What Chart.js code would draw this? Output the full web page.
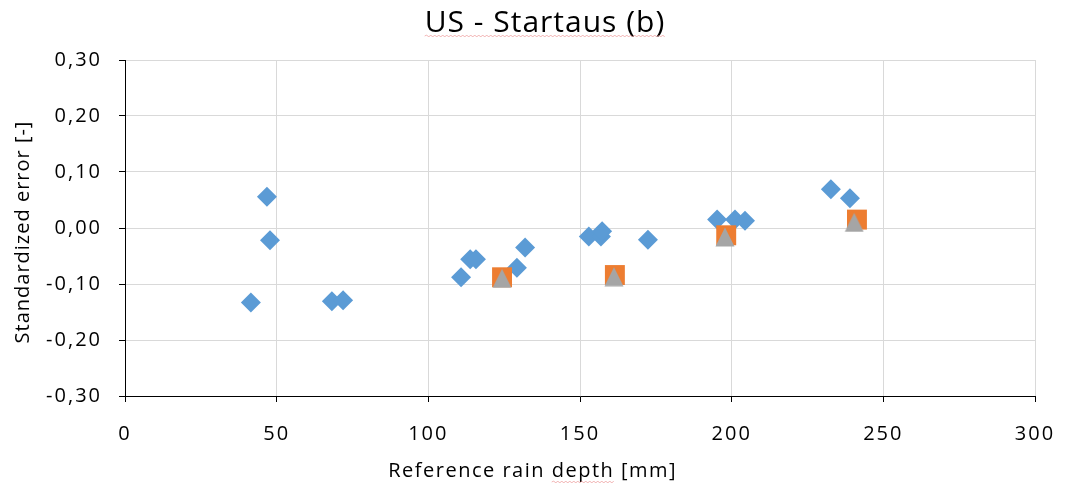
<!DOCTYPE html>
<html>
<head>
<meta charset="utf-8">
<title>US - Startaus (b)</title>
<script src="https://cdn.jsdelivr.net/npm/chart.js@4.4.1/dist/chart.umd.min.js"></script>
<style>
    html, body { margin: 0; padding: 0; background: #ffffff; }
    #wrap { width: 1066px; height: 490px; }
</style>
</head>
<body>
<div id="wrap"><canvas id="chart-startaus" width="1066" height="490"></canvas></div>
<script>
// Referans yağış derinliği [mm] ve standart hata değerleri
const depthA = [41.5, 46.8, 47.8, 68.2, 71.9, 110.8, 113.8, 115.7, 129.2, 131.9, 152.9, 156.9, 157.3, 172.4, 195.2, 201.1, 204.4, 232.7, 239.0];
const errorA = [-0.133, 0.056, -0.022, -0.131, -0.129, -0.088, -0.056, -0.056, -0.071, -0.035, -0.015, -0.015, -0.006, -0.021, 0.015, 0.015, 0.013, 0.069, 0.053];

const depthB = [124.3, 161.5, 198.2, 241.3];
const errorB = [-0.088, -0.084, -0.013, 0.015];

const depthC = [124.3, 161.2, 197.8, 240.4];
const errorC = [-0.090, -0.087, -0.016, 0.010];

const xTicks = [0, 50, 100, 150, 200, 250, 300];
const yTicks = [-0.3, -0.2, -0.1, 0, 0.1, 0.2, 0.3];

const titleText = 'US - Startaus (b)';
const xTitle = 'Reference rain depth [mm]';
const yTitle = 'Standardized error [-]';

const FONT = '"Open Sans", Lato, sans-serif';

function toPoints(xs, ys) {
    return xs.map((x, i) => ({ x: x, y: ys[i] }));
}

// Üçgen işaretçi: kutunun ortasına hizalı
function triangleMarker(color) {
    const c = document.createElement('canvas');
    c.width = 20; c.height = 20;
    const g = c.getContext('2d');
    g.fillStyle = color;
    g.beginPath();
    g.moveTo(10, 0.5);
    g.lineTo(19.5, 19.5);
    g.lineTo(0.5, 19.5);
    g.closePath();
    g.fill();
    return c;
}

// Virgüllü ondalık etiket
function commaLabel(v) {
    if (Math.abs(v) < 1e-9) v = 0;
    return v.toFixed(2).replace('.', ',');
}

// İnce kırmızı dalgalı alt çizgi
function wavy(c, x0, x1, y) {
    c.save();
    c.strokeStyle = 'rgba(232, 120, 120, 0.55)';
    c.lineWidth = 1;
    c.beginPath();
    c.moveTo(x0, y);
    let up = true;
    for (let x = x0 + 2; x <= x1; x += 2) {
        c.lineTo(x, up ? y - 1 : y + 1);
        up = !up;
    }
    c.stroke();
    c.restore();
}

// Başlık ve eksen başlıkları (hafif harf aralığı ile)
const textPlugin = {
    id: 'chartTexts',
    beforeDraw(chart) {
        chart.ctx.letterSpacing = '2px';
    },
    afterDraw(chart) {
        const c = chart.ctx;
        const a = chart.chartArea;
        c.save();
        c.fillStyle = '#000000';
        c.textAlign = 'left';
        c.textBaseline = 'alphabetic';

        // Grafik başlığı
        c.font = '30px ' + FONT;
        c.letterSpacing = '1px';
        const tx = a.left + 0.4615 * (a.right - a.left);
        const tw = c.measureText(titleText).width;
        c.fillText(titleText, tx - tw / 2, 32);
        wavy(c, tx - tw / 2, tx + tw / 2, 36);

        // X ekseni başlığı
        c.font = '20px ' + FONT;
        c.letterSpacing = '1.5px';
        const xx = a.left + 0.448 * (a.right - a.left);
        const xw = c.measureText(xTitle).width;
        c.fillText(xTitle, xx - xw / 2, 477);
        const pre = c.measureText('Reference rain ').width;
        const dw = c.measureText('depth').width;
        wavy(c, xx - xw / 2 + pre, xx - xw / 2 + pre + dw, 482);

        // Y ekseni başlığı
        c.letterSpacing = '1px';
        const yw = c.measureText(yTitle).width;
        c.translate(29, (a.top + a.bottom) / 2 + 4);
        c.rotate(-Math.PI / 2);
        c.fillText(yTitle, -yw / 2, 0);
        c.restore();
    }
};

const ctx = document.getElementById('chart-startaus').getContext('2d');
new Chart(ctx, {
    type: 'scatter',
    data: {
        datasets: [
            {
                data: toPoints(depthA, errorA),
                pointStyle: 'rectRot', pointRadius: 10, borderWidth: 0,
                backgroundColor: '#5b9bd5', order: 2
            },
            {
                data: toPoints(depthB, errorB),
                pointStyle: 'rect', pointRadius: 14.1, borderWidth: 0,
                backgroundColor: '#ed7d31', order: 1
            },
            {
                data: toPoints(depthC, errorC),
                pointStyle: triangleMarker('#a5a5a5'), pointRadius: 10,
                backgroundColor: '#a5a5a5', order: 0
            }
        ]
    },
    options: {
        responsive: false, animation: false, events: [],
        layout: { padding: { left: 0, right: 31, top: 60, bottom: 0 } },
        plugins: {
            legend: { display: false },
            tooltip: { enabled: false },
            title: { display: false }
        },
        scales: {
            x: {
                type: 'linear', min: 0, max: 300,
                afterBuildTicks: s => { s.ticks = xTicks.map(v => ({ value: v })); },
                afterFit: s => { s.height = 94; s.paddingLeft = 0; s.paddingRight = 0; },
                ticks: { color: '#000000', font: { family: FONT, size: 20 }, padding: 20 },
                grid: { color: '#d9d9d9', tickColor: '#000000', tickLength: 6 },
                border: { color: '#000000', width: 1 }
            },
            y: {
                type: 'linear', min: -0.3, max: 0.3,
                afterBuildTicks: s => { s.ticks = yTicks.map(v => ({ value: v })); },
                afterFit: s => { s.width = 125; s.paddingTop = 0; s.paddingBottom = 0; },
                ticks: { color: '#000000', font: { family: FONT, size: 20 }, padding: 17, callback: commaLabel },
                grid: { color: '#d9d9d9', tickColor: '#000000', tickLength: 6 },
                border: { color: '#000000', width: 1 }
            }
        }
    },
    plugins: [textPlugin]
});
</script>
</body>
</html>
